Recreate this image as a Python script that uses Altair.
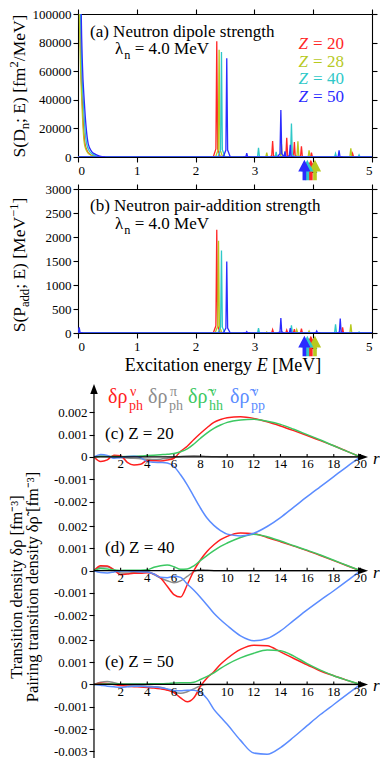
import altair as alt
import pandas as pd

SERIF = "Liberation Serif"

# ---------------- panels (a) and (b): strengths ----------------
Z_LIST = ["20", "28", "40", "50"]
Z_COLORS = ["#ff2626", "#b7c91f", "#2fc8c8", "#2b2bff"]

DIP_E_20 = [2.36, 3.31, 3.55, 3.68, 3.80, 3.97, 4.67]
DIP_S_20 = [81000, 11200, 13500, 10500, 7400, 3000, 2500]
DIP_E_28 = [2.40, 3.21, 3.46, 3.74, 3.93, 4.64]
DIP_S_28 = [75000, 3000, 9000, 11000, 4600, 6000]
DIP_E_40 = [2.44, 3.07, 3.37, 3.63, 4.38, 4.78]
DIP_S_40 = [73500, 6500, 3500, 23400, 2500, 1500]
DIP_E_50 = [2.53, 2.87, 3.45, 3.52, 3.61, 4.44]
DIP_S_50 = [69000, 2600, 32900, 4000, 8500, 4600]

TAIL_S = [400000, 100000, 65000, 39000, 20000, 9000, 4000, 2000, 600, 0]
TAIL_E_20 = [0, 0.035, 0.05, 0.073, 0.095, 0.12, 0.16, 0.20, 0.27, 0.36]
TAIL_E_28 = [0, 0.025, 0.042, 0.065, 0.087, 0.11, 0.15, 0.19, 0.26, 0.35]
TAIL_E_40 = [0, 0.045, 0.062, 0.09, 0.117, 0.148, 0.195, 0.245, 0.32, 0.41]
TAIL_E_50 = [0, 0.055, 0.075, 0.107, 0.14, 0.175, 0.23, 0.29, 0.37, 0.46]

PAIR_E_20 = [0.0, 2.36, 3.31, 3.55, 3.68, 3.80, 4.50]
PAIR_S_20 = [90, 2150, 70, 60, 80, 90, 120]
PAIR_E_28 = [0.0, 2.39, 3.21, 3.46, 3.72, 3.93, 4.64]
PAIR_S_28 = [60, 1920, 20, 40, 70, 40, 180]
PAIR_E_40 = [0.01, 2.44, 3.07, 3.63, 4.38, 4.78]
PAIR_S_40 = [80, 1720, 100, 160, 180, 20]
PAIR_E_50 = [0.02, 2.53, 2.87, 3.45, 3.61, 4.06, 4.46]
PAIR_S_50 = [120, 1490, 30, 310, 100, 40, 300]

ARROW_E = [3.96, 4.03, 3.90, 3.85]  # Z = 20, 28, 40, 50

E_TICKS = [0, 1, 2, 3, 4, 5]
SA_TICKS = [0, 20000, 40000, 60000, 80000, 100000]
SB_TICKS = [0, 500, 1000, 1500, 2000, 2500, 3000]

# ---------------- panels (c)-(e): transition densities (units 1e-4 fm^-3) ----------------
R_GRID = [0, 0.5, 1, 1.5, 2, 2.5, 3, 3.5, 4, 4.5, 5, 5.5, 6, 6.5, 7, 7.5, 8, 8.5, 9, 9.5,
          10, 11, 12, 13, 14, 15, 16, 17, 18, 19, 20]

C_RED = [0, -2.0, -1.3, 0.8, 0.5, -2.4, -3.6, -3.3, -1.6, -1.7, -1.8, -1.4, -0.6, 2.5, 4.8, 7.8,
         10.6, 13.2, 15.5, 16.8, 17.6, 18.0, 17.3, 15.8, 13.9, 11.8, 9.6, 7.3, 5.0, 2.5, 0]
C_GRAY = [0, 0.3, 0.2, 0.0, -0.3, -0.5, -0.6, -0.8, -1.0, -1.2, -1.0, -0.6, -0.2, 0.2, 0.4, 0.5,
          0.4, 0.2, 0.1, 0, 0, 0, 0, 0, 0, 0, 0, 0, 0, 0, 0]
C_GREEN = [0, 0.3, 0.3, 0.2, 0.1, 0.2, 0.3, 0.4, 0.6, 0.8, 1.0, 1.2, 1.5, 2.3, 3.6, 5.8,
           8.4, 10.8, 12.8, 14.3, 15.5, 16.6, 16.9, 16.0, 14.6, 12.4, 10.0, 7.6, 5.0, 2.5, 0]
C_BLUE = [0, 1.1, 0.7, -0.6, -0.3, 0.15, 0.3, -0.3, -2.1, -2.4, -2.5, -2.7, -4.3, -8.0, -12.5, -17.8,
          -23.0, -27.5, -30.7, -33.0, -34.6, -35.4, -34.2, -31.2, -27.2, -22.5, -17.8, -13.3, -8.8, -4.3, 0]

D_RED = [0, 2.2, 2.1, 0.3, -1.8, -1.5, -1.2, -1.2, -0.9, -1.5, -3.3, -7.0, -10.7, -11.8, -6.3, 0.0,
         4.9, 8.7, 11.6, 13.9, 15.4, 16.9, 16.6, 14.9, 13.0, 11.0, 9.0, 6.8, 4.5, 2.2, 0]
D_GRAY = [0, 1.6, 1.8, 0.5, -1.0, -1.0, -0.8, -0.6, -0.4, -1.8, -3.3, -4.5, -5.4, -4.6, -2.6, -0.4,
          0.5, 0.3, 0, 0, 0, 0, 0, 0, 0, 0, 0, 0, 0, 0, 0]
D_GREEN = [0, 1.0, 0.8, 0.3, 0.1, 0.2, 0.2, 0.2, 0.4, 1.5, 2.2, 2.5, 1.8, 0.6, 0.7, 2.2,
           4.6, 6.9, 9.0, 10.9, 12.4, 14.9, 16.3, 15.2, 13.3, 11.2, 9.2, 7.0, 4.7, 2.3, 0]
D_BLUE = [0, -0.8, -1.0, -0.6, -0.1, -0.1, -0.3, -0.5, -0.6, -1.5, -3.0, -3.2, -2.5, -3.0, -6.0, -8.8,
          -12.0, -15.5, -19.1, -22.0, -24.6, -29.2, -31.4, -30.4, -27.0, -22.3, -17.6, -13.2, -9.0, -4.6, 0]

E_RED = [0, 0.5, 0.4, 0.0, -0.5, -0.8, -1.0, -1.2, -1.4, -1.6, -2.0, -2.6, -3.7, -6.0, -7.8, -6.0,
         -0.8, 3.0, 5.7, 9.0, 11.6, 15.7, 17.6, 17.3, 14.6, 11.6, 8.8, 6.0, 3.9, 1.8, 0]
E_GRAY = [0, 1.0, 1.3, 0.8, 0.1, -0.3, -0.5, -0.6, -0.8, -1.0, -1.3, -2.2, -3.5, -4.0, -3.3, -2.0,
          -0.6, 0.0, 0, 0, 0, 0, 0, 0, 0, 0, 0, 0, 0, 0, 0]
E_GREEN = [0, 0.1, 0.2, 0.2, 0.2, 0.2, 0.2, 0.2, 0.2, 0.3, 0.3, 0.4, 0.6, 0.7, 0.7, 1.0,
           2.2, 3.6, 5.2, 7.2, 9.0, 11.9, 14.0, 15.4, 15.1, 12.7, 9.3, 6.4, 3.9, 1.9, 0]
E_BLUE = [0, -0.4, -0.8, -1.1, -1.3, -1.1, -0.8, -0.8, -1.0, -1.2, -1.5, -2.0, -2.7, -2.8, -2.6, -2.6,
          -3.7, -6.5, -11.2, -14.6, -17.9, -25.1, -30.8, -31.3, -28.3, -23.6, -18.5, -13.5, -9.0, -4.5, 0]

PANEL_NAMES = ["(c) Z = 20", "(d) Z = 40", "(e) Z = 50"]
PANEL_OFFSETS = [0.0102, 0.0051, 0.0]
R_TICKS = [2, 4, 6, 8, 10, 12, 14, 16, 18, 20]
DENS_COLORS = {"gray": "#8c8c8c", "red": "#ff1e1e", "green": "#3cc862", "blue": "#5b8cff"}

# ---------------- helpers ----------------
W = 294
HA, HB, HC = 143, 144, 393

CW = {' ': 250, '(': 333, ')': 333, '[': 333, ']': 333, ';': 278, '/': 278, '=': 564, '−': 564,
      '-': 333, '.': 250, 'S': 556, 'D': 722, 'E': 611, 'P': 556, 'M': 889, 'V': 722, 'Z': 611,
      'N': 722, 'a': 444, 'b': 500, 'c': 444, 'd': 500, 'e': 444, 'f': 333, 'g': 500, 'h': 500,
      'i': 278, 'l': 278, 'm': 778, 'n': 500, 'o': 500, 'p': 500, 'r': 333, 's': 389, 't': 278,
      'u': 500, 'x': 500, 'y': 500, 'λ': 550, 'δ': 500, 'ρ': 500, 'ν': 470, 'π': 550, '\u0303': 0}


def tw(s, size):
    return sum(CW.get(ch, 500) for ch in s) / 1000.0 * size


def txt(s, x, y, size, color="black", align="left", angle=None, italic=False, baseline="alphabetic"):
    mk = dict(font=SERIF, fontSize=size, color=color, align=align, baseline=baseline)
    if angle:
        mk["angle"] = angle
    if italic:
        mk["fontStyle"] = "italic"
    return alt.Chart(pd.DataFrame({"t": [s]})).mark_text(**mk).encode(
        text="t:N", x=alt.value(x), y=alt.value(y))


def pieces_h(parts, x0, y0, size, color="black"):
    out, c = [], 0.0
    for t, kind, it in parts:
        fs = size if kind == "n" else size * 0.72
        dy = 0 if kind == "n" else (size * 0.28 if kind == "sub" else -size * 0.38)
        core = t.lstrip(" ")
        lead = tw(t[: len(t) - len(core)], fs)
        out.append(txt(core.rstrip(" "), x0 + c + lead, y0 + dy, fs, color, italic=it))
        c += tw(t, fs)
    return out


def pieces_v(parts, xb, yc, size, color="black"):
    total = sum(tw(t, size if k == "n" else size * 0.72) for t, k in parts)
    y0 = yc + total / 2
    out, c = [], 0.0
    for t, kind in parts:
        fs = size if kind == "n" else size * 0.72
        dx = 0 if kind == "n" else (size * 0.26 if kind == "sub" else -size * 0.36)
        core = t.lstrip(" ")
        lead = tw(t[: len(t) - len(core)], fs)
        out.append(txt(core.rstrip(" "), xb + dx, y0 - c - lead, fs, color, angle=270))
        c += tw(t, fs)
    return out


def ax(orient, values, labels=True):
    kw = dict(orient=orient, values=values, title=None, grid=False, tickSize=5, tickWidth=1.1,
              tickColor="black", domainColor="black", domainWidth=1.1, labels=labels)
    if labels:
        kw.update(format="d", labelFont=SERIF, labelFontSize=13, labelColor="black", labelPadding=2)
    return alt.Axis(**kw)


SPIKE_DX = [-0.06, -0.015, 0.0, 0.015, 0.06]
SPIKE_FR = [0.0, 0.07, 1.0, 0.07, 0.0]
ARROW_PATH = "M0,-1L0.6,0.15L0.18,0.15L0.18,1L-0.18,1L-0.18,0.15L-0.6,0.15Z"


def spike_df(Es, Ss):
    rows = [{"E": 0.0, "S": 0.0, "pid": "base"}, {"E": 5.0, "S": 0.0, "pid": "base"}]
    for k, (e, s) in enumerate(zip(Es, Ss)):
        for dx, fr in zip(SPIKE_DX, SPIKE_FR):
            rows.append({"E": e + dx, "S": s * fr, "pid": "p%d" % k})
    return pd.DataFrame(rows)


def strength_panel(E_lists, S_lists, tails, ymax, yticks, H):
    xs = alt.Scale(domain=[0, 5], nice=False, zero=False)
    ys = alt.Scale(domain=[0, ymax], nice=False)
    dummy = pd.DataFrame({"E": [0.0], "S": [0.0]})
    layers = [
        alt.Chart(dummy).mark_point(opacity=0).encode(
            x=alt.X("E:Q", scale=xs, axis=ax("bottom", E_TICKS)),
            y=alt.Y("S:Q", scale=ys, axis=ax("left", yticks))),
        alt.Chart(dummy).mark_point(opacity=0).encode(
            x=alt.X("E:Q", scale=xs, axis=ax("top", E_TICKS, labels=False)),
            y=alt.Y("S:Q", scale=ys, axis=ax("right", yticks, labels=False))),
    ]
    for i, col in enumerate(Z_COLORS):
        layers.append(alt.Chart(spike_df(E_lists[i], S_lists[i])).mark_line(
            color=col, strokeWidth=1.3, clip=True).encode(
            x=alt.X("E:Q", scale=xs, axis=None), y=alt.Y("S:Q", scale=ys, axis=None),
            detail="pid:N"))
        if tails is not None:
            layers.append(alt.Chart(pd.DataFrame({"E": tails[i], "S": TAIL_S})).mark_line(
                color=col, strokeWidth=1.3, clip=True, interpolate="monotone").encode(
                x=alt.X("E:Q", scale=xs, axis=None), y=alt.Y("S:Q", scale=ys, axis=None)))
    for i, col in enumerate(Z_COLORS):
        layers.append(alt.Chart(pd.DataFrame({"E": [ARROW_E[i]]})).mark_point(
            shape=ARROW_PATH, size=420, filled=True, opacity=1, color=col, strokeWidth=0,
            clip=False).encode(x=alt.X("E:Q", scale=xs, axis=None), y=alt.value(H + 13)))
    return layers


# ---------------- panel (a) ----------------
la = strength_panel([DIP_E_20, DIP_E_28, DIP_E_40, DIP_E_50],
                    [DIP_S_20, DIP_S_28, DIP_S_40, DIP_S_50],
                    [TAIL_E_20, TAIL_E_28, TAIL_E_40, TAIL_E_50], 100000, SA_TICKS, HA)
la.append(txt("(a) Neutron dipole strength", 12, 22.5, 17))
la += pieces_h([("λ", "n", False), ("n", "sub", False), (" = 4.0 MeV", "n", False)], 37, 40, 17)
for i, (z, col) in enumerate(zip(Z_LIST, Z_COLORS)):
    rest = " = " + z
    x0 = 265 - tw(rest, 17) - 556 / 1000 * 17
    la += pieces_h([("Z", "n", True), (rest, "n", False)], x0, 35 + 17.7 * i, 17, col)
la += pieces_v([("S(D", "n"), ("n", "sub"), ("; E) [fm", "n"), ("2", "sup"), ("/MeV]", "n")],
               -53.5, 72, 17.5)
chart_a = alt.layer(*la).properties(width=W, height=HA).resolve_axis(x="independent", y="independent")

# ---------------- panel (b) ----------------
lb = strength_panel([PAIR_E_20, PAIR_E_28, PAIR_E_40, PAIR_E_50],
                    [PAIR_S_20, PAIR_S_28, PAIR_S_40, PAIR_S_50],
                    None, 3000, SB_TICKS, HB)
lb.append(txt("(b) Neutron pair-addition strength", 12, 22, 17))
lb += pieces_h([("λ", "n", False), ("n", "sub", False), (" = 4.0 MeV", "n", False)], 37, 40, 17)
lb += pieces_v([("S(P", "n"), ("add", "sub"), ("; E) [MeV", "n"), ("−1", "sup"), ("]", "n")],
               -53.5, 76, 17.5)
xt_parts = [("Excitation energy ", "n", False), ("E", "n", True), (" [MeV]", "n", False)]
xt_w = sum(tw(t, 18) for t, _, _ in xt_parts)
lb += pieces_h(xt_parts, 145 - xt_w / 2, 182, 18)
chart_b = alt.layer(*lb).properties(width=W, height=HB).resolve_axis(x="independent", y="independent")

# ---------------- panels (c)-(e) ----------------
xsc = alt.Scale(domain=[-1.2, 20.87], nice=False, zero=False)
ysc = alt.Scale(domain=[-0.0033, 0.014323], nice=False, zero=False)

OC, OD = PANEL_OFFSETS[0], PANEL_OFFSETS[1]
YC_VALUES = sorted([round(OC + k * 0.001, 6) for k in range(-2, 3)] +
                   [round(OD + k * 0.001, 6) for k in range(-2, 3)] +
                   [round(k * 0.001, 6) for k in range(-3, 3)])
vexpr = ("(datum.value > 0.0076 ? datum.value - %g : (datum.value > 0.0025 ? datum.value - %g : datum.value))"
         % (OC, OD))
label_expr = "abs(%s) < 0.00001 ? '0' : replace(format(%s, '.3f'), '\u2212', '-')" % (vexpr, vexpr)

dens = {
    "gray": [C_GRAY, D_GRAY, E_GRAY],
    "red": [C_RED, D_RED, E_RED],
    "green": [C_GREEN, D_GREEN, E_GREEN],
    "blue": [C_BLUE, D_BLUE, E_BLUE],
}

yaxis_c = alt.Axis(values=YC_VALUES, labelExpr=label_expr, offset=-16, domain=False,
                   tickSize=5, tickWidth=1.1, tickColor="black", grid=False, title=None,
                   labelFont=SERIF, labelFontSize=13, labelColor="black", labelPadding=2,
                   labelOverlap=False)
lc = [alt.Chart(pd.DataFrame({"r": [0.0], "v": [0.0]})).mark_point(opacity=0).encode(
    x=alt.X("r:Q", scale=xsc, axis=None), y=alt.Y("v:Q", scale=ysc, axis=yaxis_c))]

for comp in ["gray", "red", "green", "blue"]:
    rows = []
    for p, (vals, off) in enumerate(zip(dens[comp], PANEL_OFFSETS)):
        for r, v in zip(R_GRID, vals):
            rows.append({"r": r, "v": off + v * 1e-4, "panel": p})
    lc.append(alt.Chart(pd.DataFrame(rows)).mark_line(
        color=DENS_COLORS[comp], strokeWidth=1.5, interpolate="monotone").encode(
        x=alt.X("r:Q", scale=xsc, axis=None), y=alt.Y("v:Q", scale=ysc, axis=None),
        detail="panel:N"))

# y axis line with arrow
lc.append(alt.Chart(pd.DataFrame({"r": [0]})).mark_rule(color="black", strokeWidth=1.2).encode(
    x=alt.X("r:Q", scale=xsc, axis=None), y=alt.value(24), y2=alt.value(HC)))
lc.append(alt.Chart(pd.DataFrame({"r": [0]})).mark_point(
    shape="M0,-1L0.75,1L-0.75,1Z", size=100, filled=True, opacity=1, color="black", strokeWidth=0).encode(
    x=alt.X("r:Q", scale=xsc, axis=None), y=alt.value(24)))

# horizontal r axes
xa = pd.DataFrame({"off": PANEL_OFFSETS, "r0": [0] * 3, "r1": [20.2] * 3, "lab": PANEL_NAMES,
                   "ly": [o + 0.0008 for o in PANEL_OFFSETS], "lx": [0.83] * 3,
                   "rx": [20.95] * 3, "rt": ["r"] * 3})
lc.append(alt.Chart(xa).mark_rule(color="black", strokeWidth=1.2).encode(
    x=alt.X("r0:Q", scale=xsc, axis=None), x2="r1:Q", y=alt.Y("off:Q", scale=ysc, axis=None)))
lc.append(alt.Chart(xa).mark_point(
    shape="M1,0L-1,-0.7L-1,0.7Z", size=100, filled=True, opacity=1, color="black", strokeWidth=0).encode(
    x=alt.X("r1:Q", scale=xsc, axis=None), y=alt.Y("off:Q", scale=ysc, axis=None)))
tick_rows = [{"r": r, "off": o, "top": o + 0.00013, "t": str(r)} for o in PANEL_OFFSETS for r in R_TICKS]
tk = pd.DataFrame(tick_rows)
lc.append(alt.Chart(tk).mark_rule(color="black", strokeWidth=1.1).encode(
    x=alt.X("r:Q", scale=xsc, axis=None), y=alt.Y("off:Q", scale=ysc, axis=None), y2="top:Q"))
lc.append(alt.Chart(tk).mark_text(font=SERIF, fontSize=13, color="black", dy=11.5,
                                  baseline="alphabetic").encode(
    x=alt.X("r:Q", scale=xsc, axis=None), y=alt.Y("off:Q", scale=ysc, axis=None), text="t:N"))
lc.append(alt.Chart(xa).mark_text(font=SERIF, fontSize=17, fontStyle="italic", color="black",
                                  align="left", dy=7, baseline="alphabetic").encode(
    x=alt.X("rx:Q", scale=xsc, axis=None), y=alt.Y("off:Q", scale=ysc, axis=None), text="rt:N"))
lc.append(alt.Chart(xa).mark_text(font=SERIF, fontSize=17, color="black", align="left",
                                  baseline="alphabetic").encode(
    x=alt.X("lx:Q", scale=xsc, axis=None), y=alt.Y("ly:Q", scale=ysc, axis=None), text="lab:N"))

# legend of densities
LEG = [("δρ", "ν", "ph", "red", 30), ("δρ", "π", "ph", "gray", 70),
       ("δρ\u0303", "ν", "hh", "green", 110), ("δρ\u0303", "ν", "pp", "blue", 152)]
for main, sup, sub, comp, x0 in LEG:
    col = DENS_COLORS[comp]
    lc.append(txt(main, x0, 38, 20, col))
    lc.append(txt(sup, x0 + 22, 31, 14, col))
    lc.append(txt(sub, x0 + 21, 45, 14, col))

# y titles
lc.append(txt("Transition density δρ [fm⁻³]", -61.5, 222, 16.5, angle=270, align="center",
              baseline="middle"))
lc.append(txt("Pairing transition density δρ\u0303 [fm⁻³]", -45.5, 222, 16.5, angle=270,
              align="center", baseline="middle"))

chart_c = alt.layer(*lc).properties(width=W, height=HC).resolve_axis(x="independent", y="independent")

chart = alt.vconcat(chart_a, chart_b, chart_c, spacing=32, bounds="flush").properties(
    padding={"left": 0, "top": 0, "right": 0, "bottom": 0}).configure_view(stroke=None).configure_axis(
    labelFont=SERIF).configure_text(font=SERIF)

chart.save("out.html", embed_options={"renderer": "svg", "actions": False})
